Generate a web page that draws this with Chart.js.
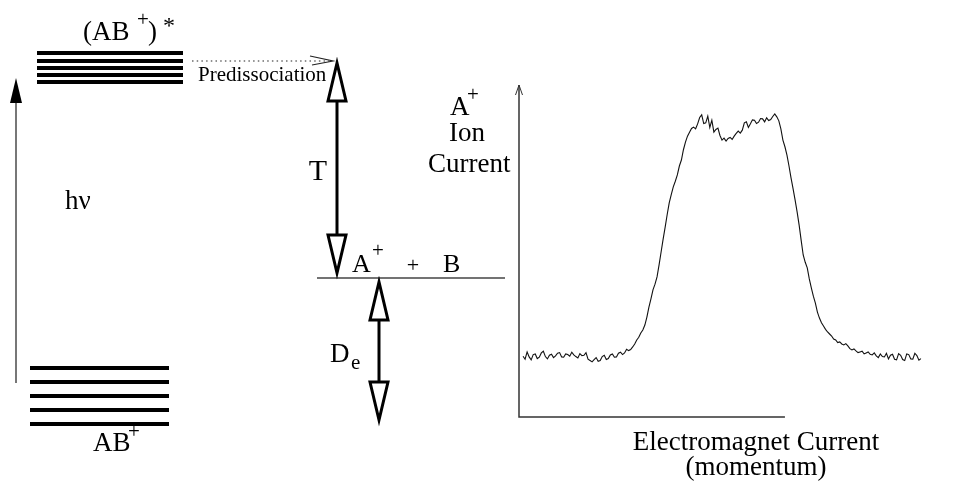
<!DOCTYPE html>
<html>
<head>
<meta charset="utf-8">
<script src="https://cdn.jsdelivr.net/npm/chart.js@4/dist/chart.umd.min.js"></script>
<style>
  html, body { margin: 0; padding: 0; background: #fff; }
  #wrap { position: relative; width: 954px; height: 486px; }
  #wrap canvas { position: absolute; left: 0; top: 0; }
</style>
</head>
<body>
<div id="wrap">
  <canvas id="diagram" width="954" height="486"></canvas>
  <canvas id="spectrum" width="954" height="486"></canvas>
</div>
<script>
// ── Energy scheme (arbitrary units, A+ + B limit at 0) ────────────────────
const excitedLevels     = [22.5, 21.7, 21.0, 20.3, 19.6];     // (AB+)*
const groundLevels      = [-9.0, -10.4, -11.8, -13.2, -14.6];  // AB+
const dissociationLimit = 0;                                   // A+ + B
const predissLevel      = 21.7;

// arrow spans in energy units
const photonSpan  = [-10.5, 20.0];   // hν
const kineticSpan = [0.5, 21.5];     // T
const bindingSpan = [-0.4, -14.2];   // De

// ── A+ ion current vs electromagnet current ───────────────────────────────
const magnetCurrent = [
   1,  1.5,  2,  2.5,  3,  3.5,  4,  4.5,  5,  5.5,
   6,  6.5,  7,  7.5,  8,  8.5,  9,  9.5, 10, 10.5,
  11, 11.5, 12, 12.5, 13, 13.5, 14, 14.5, 15, 15.5,
  16, 16.5, 17, 17.5, 18, 18.5, 19, 19.5, 20, 20.5,
  21, 21.5, 22, 22.5, 23, 23.5, 24, 24.5, 25, 25.5,
  26, 26.5, 27, 27.5, 28, 28.5, 29, 29.5, 30, 30.5,
  31, 31.5, 32, 32.5, 33, 33.5, 34, 34.5, 35, 35.5,
  36, 36.5, 37, 37.5, 38, 38.5, 39, 39.5, 40, 40.5,
  41, 41.5, 42, 42.5, 43, 43.5, 44, 44.5, 45, 45.5,
  46, 46.5, 47, 47.5, 48, 48.5, 49, 49.5, 50, 50.5,
  51, 51.5, 52, 52.5, 53, 53.5, 54, 54.5, 55, 55.5,
  56, 56.5, 57, 57.5, 58, 58.5, 59, 59.5, 60, 60.5,
  61, 61.5, 62, 62.5, 63, 63.5, 64, 64.5, 65, 65.5,
  66, 66.5, 67, 67.5, 68, 68.5, 69, 69.5, 70, 70.5,
  71, 71.5, 72, 72.5, 73, 73.5, 74, 74.5, 75, 75.5,
  76, 76.5, 77, 77.5, 78, 78.5, 79, 79.5, 80, 80.5,
  81, 81.5, 82, 82.5, 83, 83.5, 84, 84.5, 85, 85.5,
  86, 86.5, 87, 87.5, 88, 88.5, 89, 89.5, 90, 90.5,
  91, 91.5, 92, 92.5, 93, 93.5, 94, 94.5, 95, 95.5,
  96, 96.5, 97, 97.5, 98, 98.5, 99,
];
const ionCurrent = [
  18.3, 17.4, 19.6, 18.1, 17.2, 18.8, 19.0, 17.6, 18.0, 19.3,
  19.8, 18.2, 17.5, 18.6, 18.9, 17.9, 18.4, 19.2, 19.4, 18.1,
  18.0, 19.0, 18.8, 18.3, 19.5, 18.7, 18.2, 17.8, 19.1, 18.5,
  18.6, 19.4, 17.4, 17.0, 16.6, 17.3, 17.9, 16.8, 17.0, 18.2,
  18.6, 17.3, 17.6, 18.7, 19.0, 18.0, 18.1, 19.2, 19.5, 18.8,
  19.3, 20.4, 20.0, 20.3, 21.1, 22.0, 23.2, 24.0, 25.3, 26.2,
  27.7, 30.1, 33.1, 35.6, 38.3, 40.0, 42.2, 45.8, 49.7, 53.6,
  57.2, 61.0, 64.5, 67.0, 69.3, 71.0, 72.9, 75.6, 77.4, 80.5,
  82.8, 84.6, 85.8, 86.9, 87.3, 86.8, 88.3, 90.2, 91.0, 88.4,
  88.6, 90.6, 87.2, 89.4, 85.8, 86.6, 87.0, 84.8, 83.4, 84.0,
  83.1, 83.9, 84.2, 83.6, 84.6, 85.4, 86.1, 85.5, 86.4, 88.6,
  88.9, 87.2, 88.3, 89.5, 89.4, 88.4, 88.8, 89.9, 89.8, 88.9,
  90.1, 89.3, 89.6, 90.5, 91.3, 90.4, 89.2, 86.8, 83.4, 81.4,
  78.9, 75.6, 72.0, 68.8, 65.4, 61.8, 57.8, 53.2, 48.8, 46.6,
  44.9, 41.6, 38.9, 36.4, 34.3, 31.6, 29.8, 28.4, 27.4, 26.4,
  25.6, 25.0, 24.4, 23.5, 23.2, 22.4, 22.6, 22.0, 21.7, 22.1,
  21.4, 20.6, 20.2, 20.5, 19.9, 19.4, 19.6, 19.8, 19.0, 19.3,
  19.6, 18.9, 18.7, 19.3, 18.4, 17.9, 19.0, 18.2, 18.1, 19.2,
  17.5, 18.6, 18.9, 17.4, 17.2, 19.1, 18.6, 17.3, 17.0, 19.0,
  18.8, 17.5, 17.4, 19.2, 18.5, 17.1, 17.6,
];
const X_AXIS_END = 65.5;   // drawn extent of the current axis

// ── Layout columns for the level scheme ───────────────────────────────────
const COL = {
  excited: [37, 183], ground: [30, 169], limit: [317, 505],
  photon: 16, kinetic: 337, binding: 379, predissFrom: 192, predissTo: 333,
};

const SERIF = '"Liberation Serif", "DejaVu Serif", serif';

function _txt(ctx, s, x, y, size, align = 'left') {
  ctx.font = `${size}px ${SERIF}`;
  ctx.textAlign = align;
  ctx.textBaseline = 'alphabetic';
  ctx.fillText(s, x, y);
}

// open triangular head, dir -1 = pointing up, +1 = pointing down
function _openHead(ctx, x, tipY, dir, len, half) {
  const baseY = tipY - dir * len;
  ctx.beginPath();
  ctx.moveTo(x, tipY);
  ctx.lineTo(x - half, baseY);
  ctx.lineTo(x + half, baseY);
  ctx.closePath();
  ctx.fillStyle = '#fff';
  ctx.fill();
  ctx.stroke();
}

function _doubleArrow(ctx, x, yTop, yBot) {
  const len = 38, half = 9;
  ctx.save();
  ctx.strokeStyle = '#000';
  ctx.lineWidth = 3;
  ctx.lineJoin = 'miter';
  ctx.beginPath();
  ctx.moveTo(x, yTop + len);
  ctx.lineTo(x, yBot - len);
  ctx.stroke();
  _openHead(ctx, x, yTop, -1, len, half);
  _openHead(ctx, x, yBot, 1, len, half);
  ctx.restore();
}

// ── Level scheme chart ────────────────────────────────────────────────────

const levelSeg = (E, span) => [{ x: span[0], y: E }, { x: span[1], y: E }];

const schemeDatasets = [
  ...excitedLevels.map(E => ({
    data: levelSeg(E, COL.excited), borderColor: '#000', borderWidth: 4,
  })),
  ...groundLevels.map(E => ({
    data: levelSeg(E, COL.ground), borderColor: '#000', borderWidth: 4,
  })),
  { data: levelSeg(dissociationLimit, COL.limit), borderColor: '#444', borderWidth: 1.3 },
].map(d => ({ ...d, showLine: true, pointRadius: 0, borderCapStyle: 'butt' }));

const schemeDecor = {
  id: 'schemeDecor',
  afterDatasetsDraw(chart) {
    const { ctx } = chart;
    const y = chart.scales.y;
    const py = E => y.getPixelForValue(E);

    // hν excitation arrow
    ctx.save();
    const tip = py(photonSpan[1]);
    ctx.strokeStyle = '#777';
    ctx.lineWidth = 2;
    ctx.beginPath();
    ctx.moveTo(COL.photon, py(photonSpan[0]));
    ctx.lineTo(COL.photon, tip + 20);
    ctx.stroke();
    ctx.fillStyle = '#000';
    ctx.beginPath();
    ctx.moveTo(COL.photon, tip);
    ctx.lineTo(COL.photon - 6, tip + 25);
    ctx.lineTo(COL.photon + 6, tip + 25);
    ctx.closePath();
    ctx.fill();

    // predissociation (dotted) with open chevron
    const pp = py(predissLevel);
    ctx.strokeStyle = '#222';
    ctx.lineWidth = 1.2;
    ctx.setLineDash([1.5, 3.2]);
    ctx.beginPath();
    ctx.moveTo(COL.predissFrom, pp);
    ctx.lineTo(COL.predissTo - 4, pp);
    ctx.stroke();
    ctx.setLineDash([]);
    ctx.beginPath();
    ctx.moveTo(COL.predissTo - 23, pp - 5);
    ctx.lineTo(COL.predissTo, pp);
    ctx.lineTo(COL.predissTo - 21, pp + 4);
    ctx.stroke();
    ctx.restore();

    _doubleArrow(ctx, COL.kinetic, py(kineticSpan[1]), py(kineticSpan[0]));
    _doubleArrow(ctx, COL.binding, py(bindingSpan[0]), py(bindingSpan[1]));

    // labels
    ctx.save();
    ctx.fillStyle = '#000';
    _txt(ctx, '(AB', 83, 40, 27);
    _txt(ctx, '+', 137, 26, 21);
    _txt(ctx, ')', 148, 40, 27);
    _txt(ctx, '*', 163, 33, 24);
    _txt(ctx, 'Predissociation', 198, 81, 21);
    _txt(ctx, 'h\u03bd', 65, 209, 27);
    _txt(ctx, 'T', 318, 180, 30, 'center');
    _txt(ctx, 'A', 352, 272, 26);
    _txt(ctx, '+', 372, 257, 21);
    _txt(ctx, '+', 413, 272, 22, 'center');
    _txt(ctx, 'B', 443, 272, 26);
    _txt(ctx, 'D', 330, 362, 27);
    _txt(ctx, 'e', 351, 369, 21);
    _txt(ctx, 'AB', 93, 451, 27);
    _txt(ctx, '+', 128, 438, 21);
    ctx.restore();
  },
};

new Chart(document.getElementById('diagram'), {
  type: 'scatter',
  data: { datasets: schemeDatasets },
  options: {
    responsive: false,
    animation: false,
    layout: { padding: 0 },
    plugins: { legend: { display: false }, tooltip: { enabled: false } },
    scales: {
      x: { type: 'linear', min: 0, max: 954, display: false },
      y: { type: 'linear', min: -20.8, max: 27.8, display: false },
    },
  },
  plugins: [schemeDecor],
});

// ── Ion current trace chart ───────────────────────────────────────────────

const spectrumAxes = {
  id: 'spectrumAxes',
  afterDraw(chart) {
    const { ctx } = chart;
    const x = chart.scales.x, y = chart.scales.y;
    const x0 = x.getPixelForValue(0), y0 = y.getPixelForValue(0);
    const yTop = y.getPixelForValue(100), xEnd = x.getPixelForValue(X_AXIS_END);

    ctx.save();
    ctx.strokeStyle = '#333';
    ctx.lineWidth = 1.5;
    ctx.beginPath();
    ctx.moveTo(x0, yTop);
    ctx.lineTo(x0, y0);
    ctx.lineTo(xEnd, y0);
    ctx.stroke();
    ctx.lineWidth = 1;
    ctx.beginPath();
    ctx.moveTo(x0 - 3.5, yTop + 10);
    ctx.lineTo(x0, yTop);
    ctx.lineTo(x0 + 3.5, yTop + 10);
    ctx.stroke();

    ctx.fillStyle = '#000';
    _txt(ctx, 'A', 450, 115, 27);
    _txt(ctx, '+', 467, 101, 21);
    _txt(ctx, 'Ion', 449, 141, 27);
    _txt(ctx, 'Current', 428, 172, 27);
    _txt(ctx, 'Electromagnet Current', 756, 450, 27, 'center');
    _txt(ctx, '(momentum)', 756, 475, 27, 'center');
    ctx.restore();
  },
};

new Chart(document.getElementById('spectrum'), {
  type: 'scatter',
  data: {
    datasets: [{
      data: magnetCurrent.map((m, i) => ({ x: m, y: ionCurrent[i] })),
      showLine: true,
      borderColor: '#111',
      borderWidth: 1.1,
      pointRadius: 0,
      tension: 0,
    }],
  },
  options: {
    responsive: false,
    animation: false,
    layout: { padding: { left: 519, top: 85, right: 29, bottom: 69 } },
    plugins: { legend: { display: false }, tooltip: { enabled: false } },
    scales: {
      x: { type: 'linear', min: 0, max: 100, display: false },
      y: { type: 'linear', min: 0, max: 100, display: false },
    },
  },
  plugins: [spectrumAxes],
});
</script>
</body>
</html>
